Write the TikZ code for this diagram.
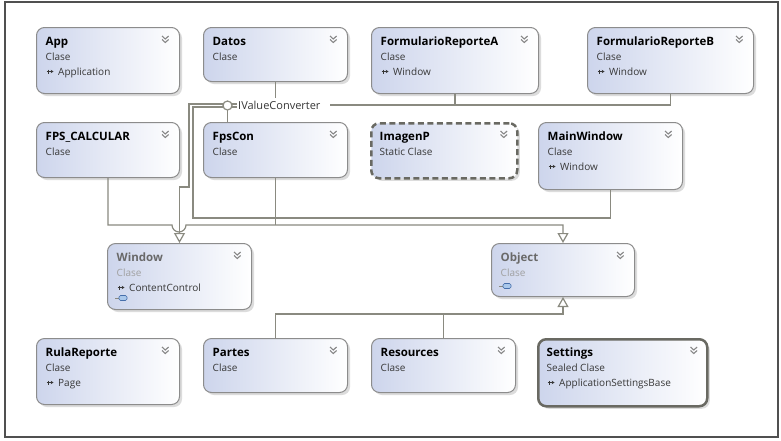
\documentclass[tikz,border=0pt]{standalone}
\usepackage{fontspec}
\setmainfont{Open Sans}
\usetikzlibrary{arrows.meta,calc,shadows}
\definecolor{boxL}{RGB}{205,213,236}
\definecolor{boxBorder}{RGB}{140,140,140}
\definecolor{lineC}{RGB}{138,138,128}
\definecolor{chevC}{RGB}{135,135,135}
\definecolor{greyTitle}{RGB}{105,105,105}
\definecolor{greySub}{RGB}{160,160,160}
\definecolor{subC}{RGB}{55,55,55}
\definecolor{frameC}{RGB}{80,80,80}
\definecolor{iconC}{RGB}{70,110,170}
\definecolor{iconF}{RGB}{170,200,235}
\definecolor{thickC}{RGB}{105,105,98}
\tikzset{
  cbox/.style={draw=boxBorder, line width=1pt, rounded corners=8pt, left color=boxL, right color=white,
    anchor=north west, inner sep=0pt,
    drop shadow={shadow xshift=2.5pt, shadow yshift=-2.5pt, opacity=0.3, fill=black!45}},
  dashbox/.style={draw=thickC, line width=2.5pt, dash pattern=on 6pt off 3.5pt},
  thickbox/.style={draw=thickC, line width=2.5pt},
  ttl/.style={anchor=base west, inner sep=0pt, font=\fontsize{11.5}{13}\selectfont\bfseries},
  sub/.style={anchor=base west, inner sep=0pt, font=\fontsize{10}{12}\selectfont, text=subC},
  chev/.style={draw=chevC, line width=1.1pt},
  conn/.style={draw=lineC, line width=1.2pt},
  gen/.style={-{Triangle[open, length=10pt, width=11pt]}},
  inharrow/.style={draw=subC, line width=0.7pt, -{Stealth[length=2.8pt,width=3.4pt]}},
}
\newcommand\classbox[8]{%
  \node[cbox,minimum width=#4pt,minimum height=#5pt,#6] (#1) at (#2,#3) {};
  \node[ttl] at ($(#1.north west)+(9.5,18.5)$) {#7};
  \node[sub] at ($(#1.north west)+(9.5,33.5)$) {#8};
  \draw[chev] ($(#1.north east)+(-18,9)$) -- ++(3.3,3) -- ++(3.3,-3);
  \draw[chev] ($(#1.north east)+(-18,12.5)$) -- ++(3.3,3) -- ++(3.3,-3);
}
\newcommand\inhline[2]{%
  \draw[inharrow] ($(#1.north west)+(10.5,44.5)$) -- ++(7,0);
  \draw[draw=subC, line width=0.7pt] ($(#1.north west)+(12.5,42.5)$) -- ++(0,4);
  \node[sub] at ($(#1.north west)+(22,48.5)$) {#2};
}
\newcommand\clsicon[2]{%
  \draw[draw=lineC, line width=0.8pt] ($(#1.north west)+(8,#2)$) -- ++(4,0);
  \draw[draw=iconC, line width=0.6pt, fill=iconF, rounded corners=1.5pt]
    ($(#1.north west)+(12,#2-2.5)$) rectangle ++(8,5);
}
\begin{document}
\begin{tikzpicture}[x=1pt,y=-1pt]
\useasboundingbox (0,0) rectangle (781,440);
\fill[white] (0,0) rectangle (781,440);
\draw[frameC, line width=1.5pt] (5,2) rectangle (778,437);

% row 1
\classbox{app}{36}{27}{143}{66}{}{App}{Clase}
\inhline{app}{Application}
\classbox{datos}{203}{27}{144}{54}{}{Datos}{Clase}
\classbox{fra}{371}{27}{167}{66}{}{FormularioReporteA}{Clase}
\inhline{fra}{Window}
\classbox{frb}{587}{27}{166}{66}{}{FormularioReporteB}{Clase}
\inhline{frb}{Window}
% row 2
\classbox{fpscalc}{36}{122}{143}{55}{}{FPS\_CALCULAR}{Clase}
\classbox{fpscon}{203}{122}{144}{55}{}{FpsCon}{Clase}
\classbox{imagenp}{370}{122}{146}{55}{dashbox}{ImagenP}{Static Clase}
\classbox{mainw}{538}{122}{144}{67}{}{MainWindow}{Clase}
\inhline{mainw}{Window}
% row 3
\classbox{window}{107}{243}{144}{66}{}{\color{greyTitle}Window}{\color{greySub}Clase}
\inhline{window}{ContentControl}
\clsicon{window}{55}
\classbox{object}{491}{243}{143}{53}{}{\color{greyTitle}Object}{\color{greySub}Clase}
\clsicon{object}{43}
% row 4
\classbox{rula}{36}{338}{143}{66}{}{RulaReporte}{Clase}
\inhline{rula}{Page}
\classbox{partes}{203}{338}{144}{54}{}{Partes}{Clase}
\classbox{resources}{371}{338}{144}{54}{}{Resources}{Clase}
\classbox{settings}{537}{338}{169}{67}{thickbox}{Settings}{Sealed Clase}
\inhline{settings}{ApplicationSettingsBase}

% connectors
\coordinate (busTop) at (330,105);
\coordinate (ivA) at (237,104);
\coordinate (ivB) at (237,107);
\coordinate (lol) at (227.5,105.5);
\coordinate (busO) at (0,225);
\coordinate (busB) at (0,314);

\draw[conn] (datos.south) -- ++(0,16);
\draw[conn] (fra.south) -- (fra.south |- busTop);
\draw[conn] (busTop) -| (frb.south);

\draw[conn] (ivB) -- (193,107) |- (mainw.south |- 0,218) -- (mainw.south);
\draw[conn,gen] (ivA) -- (189,104) |- (window.north |- 0,187) -- (window.north);
\draw[conn] ($(lol)+(0,4.5)$) -- (lol |- fpscon.north);
\draw[conn, fill=white] (lol) circle[radius=4.5];
\node[anchor=west, inner sep=0pt, font=\fontsize{11}{13}\selectfont, text=subC] (ivc) at (238,105.5) {IValueConverter};

\draw[conn] (fpscon.south) -- (fpscon.south |- busO);
\draw[conn,gen] (fpscalc.south) |- (172,225) arc[start angle=180, end angle=0, radius=7]
  -- (object.north |- busO) -- (object.north);

\draw[conn] (resources.north) -- (resources.north |- busB);
\draw[conn,gen] (partes.north) |- (object.south |- busB) -- (object.south);
\end{tikzpicture}
\end{document}
